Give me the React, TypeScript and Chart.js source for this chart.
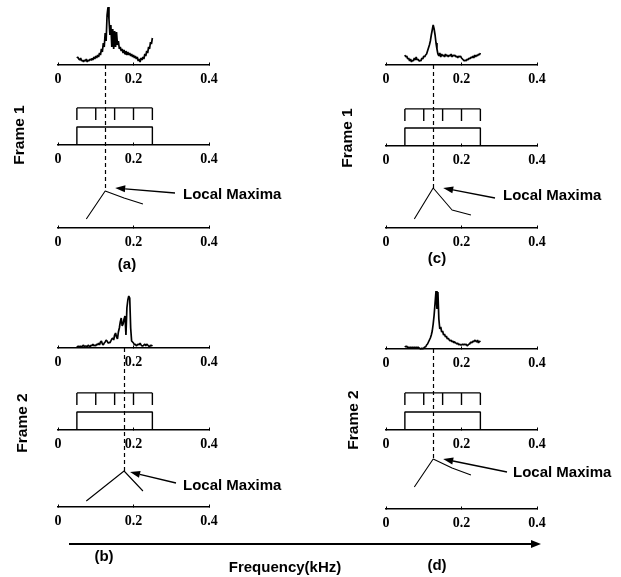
import React, { useEffect, useRef } from "react";
import { Chart, registerables } from "chart.js";

Chart.register(...registerables);

// ---------- data ----------
const FREQ_START = 0.05; // kHz, first spectrum bin
const FREQ_STEP = 0.0025; // kHz, bin spacing
const X_TICKS = [0, 0.2, 0.4];
const FILTER_EDGES = [0.05, 0.1, 0.15, 0.2, 0.25];
const CHANNEL_CENTERS = [0.075, 0.125, 0.175, 0.225];
const FILTER_GAIN = 1;
const COMB_TOP = 2.06;
const COMB_TICK = 1.39;

// spectra (arbitrary amplitude units)
const SPEC_A = [
  7, 8, 6, 5, 7, 4, 5, 3, 5, 4, 6, 3, 5, 4, 6, 5, 7, 5, 8, 6, 9, 7, 10, 8, 12, 10, 16, 13, 22, 18,
  32, 24, 50, 58, 46, 30, 40, 18, 36, 16, 34, 18, 33, 20, 24, 16, 18, 14, 16, 12, 15, 11, 14, 10,
  13, 10, 12, 9, 11, 8, 10, 7, 9, 6, 8, 4, 6, 3, 7, 5, 8, 6, 11, 9, 14, 12, 18, 16, 23, 21, 27,
];
const SPEC_B = [
  2, 1, 2, 1, 2, 1, 2, 3, 1, 2, 2, 1, 3, 2, 1, 3, 2, 4, 2, 3, 2, 4, 3, 5, 3, 6, 7, 4, 3, 5, 6, 8,
  7, 5, 6, 5, 7, 9, 10, 8, 13, 15, 11, 9, 16, 20, 26, 30, 22, 24, 29, 32, 13, 40, 48, 52, 50, 20,
  7, 6, 5, 3, 4, 2, 3, 4, 3, 5, 3, 2, 2, 3, 4, 2, 4, 3, 2, 1, 3, 2, 3,
];
const SPEC_C = [
  10, 8, 9, 6, 7, 4, 6, 3, 5, 4, 7, 5, 8, 5, 6, 4, 5, 4, 7, 6, 9, 8, 10, 11, 14, 17, 20, 24, 30,
  35, 40, 36, 30, 22, 16, 11, 9, 12, 8, 11, 9, 10, 8, 11, 9, 10, 8, 10, 9, 11, 8, 10, 9, 10, 8, 9,
  7, 9, 8, 9, 7, 6, 5, 4, 5, 4, 6, 5, 7, 6, 8, 7, 9, 7, 10, 8, 10, 9, 11, 10, 12,
];
const SPEC_D = [
  3, 2, 3, 1, 2, 1, 2, 1, 2, 1, 2, 1, 2, 1, 2, 1, 1, 0, 1, 0, 1, 2, 2, 4, 5, 7, 9, 11, 14, 18, 25,
  34, 46, 58, 40, 57, 30, 20, 22, 17, 18, 14, 15, 12, 13, 10, 11, 9, 8, 9, 7, 8, 6, 7, 6, 5, 6, 4,
  5, 4, 4, 5, 4, 5, 4, 5, 3, 4, 5, 6, 7, 6, 8, 7, 9, 8, 7, 9, 6, 8, 7,
];

// channel energies (local-maxima curves)
const LM_A = [9, 37, 30, 24];
const LM_B = [6, 21, 36, 16];
const LM_C = [9, 40, 18, 13];
const LM_D = [22, 50, 41, 34];

// ---------- layout ----------
const FONT = '"Liberation Sans", Arial, Helvetica, sans-serif';
const TICK_FONT = '"Liberation Serif", "Times New Roman", serif';
const AXIS_WIDTH = 151;
const FB_UNIT = 18;

type Panel = {
  key: string;
  spec: number[];
  lm: number[];
  frame: string;
  tag: string;
  left: number;
  top: number;
  width: number;
  height: number;
  axisLeft: number;
  specBase: number;
  fbBase: number;
  lmBase: number;
  frameX: number;
  frameY: number;
  tagX: number;
  tagY: number;
  textX: number;
  textY: number;
  tailX: number;
  tailY: number;
  tipDx: number;
  tipDy: number;
};

const PANELS: Panel[] = [
  {
    key: "a", spec: SPEC_A, lm: LM_A, frame: "Frame 1", tag: "(a)",
    left: 0, top: 0, width: 310, height: 285, axisLeft: 58,
    specBase: 65, fbBase: 145, lmBase: 228,
    frameX: 20, frameY: 135, tagX: 127, tagY: 265,
    textX: 183, textY: 195, tailX: 175, tailY: 193, tipDx: 10, tipDy: -3,
  },
  {
    key: "c", spec: SPEC_C, lm: LM_C, frame: "Frame 1", tag: "(c)",
    left: 310, top: 0, width: 311, height: 285, axisLeft: 386,
    specBase: 65, fbBase: 146, lmBase: 228,
    frameX: 348, frameY: 138, tagX: 437, tagY: 259,
    textX: 503, textY: 196, tailX: 495, tailY: 198, tipDx: 10, tipDy: 0,
  },
  {
    key: "b", spec: SPEC_B, lm: LM_B, frame: "Frame 2", tag: "(b)",
    left: 0, top: 285, width: 310, height: 292, axisLeft: 58,
    specBase: 348, fbBase: 430, lmBase: 507,
    frameX: 23, frameY: 423, tagX: 104, tagY: 557,
    textX: 183, textY: 486, tailX: 176, tailY: 483, tipDx: 6, tipDy: 1,
  },
  {
    key: "d", spec: SPEC_D, lm: LM_D, frame: "Frame 2", tag: "(d)",
    left: 310, top: 285, width: 311, height: 292, axisLeft: 386,
    specBase: 349, fbBase: 430, lmBase: 509,
    frameX: 354, frameY: 420, tagX: 437, tagY: 566,
    textX: 513, textY: 473, tailX: 507, tailY: 472, tipDx: 10, tipDy: 0,
  },
];

function drawArrow(ctx: CanvasRenderingContext2D, x1: number, y1: number, x2: number, y2: number) {
  const ang = Math.atan2(y2 - y1, x2 - x1);
  const L = 10;
  const W = 3.5;
  const bx = x2 - L * Math.cos(ang);
  const by = y2 - L * Math.sin(ang);
  ctx.beginPath();
  ctx.moveTo(x1, y1);
  ctx.lineTo(bx, by);
  ctx.stroke();
  ctx.beginPath();
  ctx.moveTo(x2, y2);
  ctx.lineTo(bx + W * Math.sin(ang), by - W * Math.cos(ang));
  ctx.lineTo(bx - W * Math.sin(ang), by + W * Math.cos(ang));
  ctx.closePath();
  ctx.fill();
}

function PanelChart({ p }: { p: Panel }) {
  const ref = useRef<HTMLCanvasElement>(null);
  useEffect(() => {
    if (!ref.current) return;
    const H = p.height;
    const row = (base: number, unit: number) => ({
      min: -(H - (base - p.top)) / unit,
      max: (base - p.top) / unit,
    });

    const specPts = p.spec.map((v, i) => ({ x: FREQ_START + i * FREQ_STEP, y: v }));
    const first = FILTER_EDGES[0];
    const last = FILTER_EDGES[FILTER_EDGES.length - 1];
    const rectPts = [
      { x: first, y: 0 },
      { x: first, y: FILTER_GAIN },
      { x: last, y: FILTER_GAIN },
      { x: last, y: 0 },
    ];
    const combTop = [
      { x: first, y: COMB_TOP },
      { x: last, y: COMB_TOP },
    ];
    const combTicks: { x: number; y: number | null }[] = [];
    FILTER_EDGES.forEach((e) => {
      combTicks.push({ x: e, y: COMB_TICK }, { x: e, y: COMB_TOP }, { x: e, y: null });
    });
    const lmPts = p.lm.map((v, i) => ({ x: CHANNEL_CENTERS[i], y: v }));

    const xAxis = (pos: any) => ({
      type: "linear",
      axis: "x",
      min: 0,
      max: 0.4,
      position: pos,
      offset: false,
      afterBuildTicks: (s: any) => {
        s.ticks = X_TICKS.map((v) => ({ value: v }));
      },
      grid: {
        display: true,
        drawOnChartArea: false,
        drawTicks: true,
        tickLength: -3,
        color: "#000",
        lineWidth: 1,
      },
      border: { display: true, color: "#000", width: 1.5 },
      ticks: {
        color: "#000",
        font: { family: TICK_FONT, size: 14, weight: "bold" },
        padding: 9,
        maxRotation: 0,
        autoSkip: false,
        callback: (v: any) => `${v}`,
      },
    });

    const base = {
      type: "line",
      pointRadius: 0,
      borderColor: "#000",
      tension: 0,
      fill: false,
      xAxisID: "x",
      borderJoinStyle: "bevel",
    };

    const annot = {
      id: "annot" + p.key,
      afterDraw(chart: any) {
        const ctx: CanvasRenderingContext2D = chart.ctx;
        const xs = chart.scales.x;
        const ys = chart.scales.ys;
        const yl = chart.scales.yl;
        let k = 0;
        p.lm.forEach((v, i) => {
          if (v > p.lm[k]) k = i;
        });
        const fx = xs.getPixelForValue(CHANNEL_CENTERS[k]);
        const yTop = ys.getPixelForValue(0);
        const yPeak = yl.getPixelForValue(p.lm[k]);
        ctx.save();
        ctx.strokeStyle = "#000";
        ctx.fillStyle = "#000";
        ctx.lineWidth = 1.2;
        ctx.setLineDash([4, 3]);
        ctx.beginPath();
        ctx.moveTo(Math.round(fx) + 0.5, yTop);
        ctx.lineTo(Math.round(fx) + 0.5, yPeak);
        ctx.stroke();
        ctx.setLineDash([]);
        ctx.lineWidth = 1.3;
        drawArrow(ctx, p.tailX - p.left, p.tailY - p.top, fx + p.tipDx, yPeak + p.tipDy);

        ctx.font = `bold 15px ${FONT}`;
        ctx.textBaseline = "middle";
        ctx.textAlign = "left";
        ctx.fillText("Local Maxima", p.textX - p.left, p.textY - p.top);

        ctx.textAlign = "center";
        ctx.fillText(p.tag, p.tagX - p.left, p.tagY - p.top);

        ctx.translate(p.frameX - p.left, p.frameY - p.top);
        ctx.rotate(-Math.PI / 2);
        ctx.font = `bold 15.5px ${FONT}`;
        ctx.fillText(p.frame, 0, 0);
        ctx.restore();
      },
    };

    const chart = new Chart(ref.current, {
      type: "line",
      data: {
        datasets: [
          { ...base, data: specPts, yAxisID: "ys", borderWidth: 1.7 },
          { ...base, data: rectPts, yAxisID: "yf", borderWidth: 1.4 },
          { ...base, data: combTop, yAxisID: "yf", borderWidth: 1.4 },
          { ...base, data: combTicks, yAxisID: "yf", borderWidth: 1.4, spanGaps: false },
          { ...base, data: lmPts, yAxisID: "yl", borderWidth: 1.1 },
        ] as any,
      },
      options: {
        responsive: false,
        animation: false,
        events: [],
        layout: {
          padding: {
            left: p.axisLeft - p.left,
            right: p.width - (p.axisLeft - p.left) - AXIS_WIDTH,
            top: 0,
            bottom: 0,
          },
        },
        plugins: { legend: { display: false }, tooltip: { enabled: false }, title: { display: false } },
        scales: {
          x: xAxis({ ys: 0 }),
          x2: xAxis({ yf: 0 }),
          x3: xAxis({ yl: 0 }),
          ys: { type: "linear", axis: "y", display: false, ...row(p.specBase, 1) },
          yf: { type: "linear", axis: "y", display: false, ...row(p.fbBase, FB_UNIT) },
          yl: { type: "linear", axis: "y", display: false, ...row(p.lmBase, 1) },
        } as any,
      },
      plugins: [annot],
    } as any);
    return () => chart.destroy();
  }, [p]);

  return (
    <canvas
      ref={ref}
      width={p.width}
      height={p.height}
      style={{ position: "absolute", left: p.left, top: p.top, width: p.width, height: p.height }}
    />
  );
}

export default function App() {
  return (
    <div
      style={{
        position: "absolute",
        left: 0,
        top: 0,
        width: 621,
        height: 577,
        background: "#fff",
        overflow: "hidden",
      }}
    >
      {PANELS.map((p) => (
        <PanelChart key={p.key} p={p} />
      ))}
      <div style={{ position: "absolute", left: 69, top: 543, width: 464, height: 1.5, background: "#000" }} />
      <div
        style={{
          position: "absolute",
          left: 531,
          top: 540,
          width: 0,
          height: 0,
          borderTop: "4px solid transparent",
          borderBottom: "4px solid transparent",
          borderLeft: "10px solid #000",
        }}
      />
      <div
        style={{
          position: "absolute",
          left: 185,
          top: 558,
          width: 200,
          height: 18,
          lineHeight: "18px",
          textAlign: "center",
          font: `bold 15px ${FONT}`,
          color: "#000",
        }}
      >
        Frequency(kHz)
      </div>
    </div>
  );
}
